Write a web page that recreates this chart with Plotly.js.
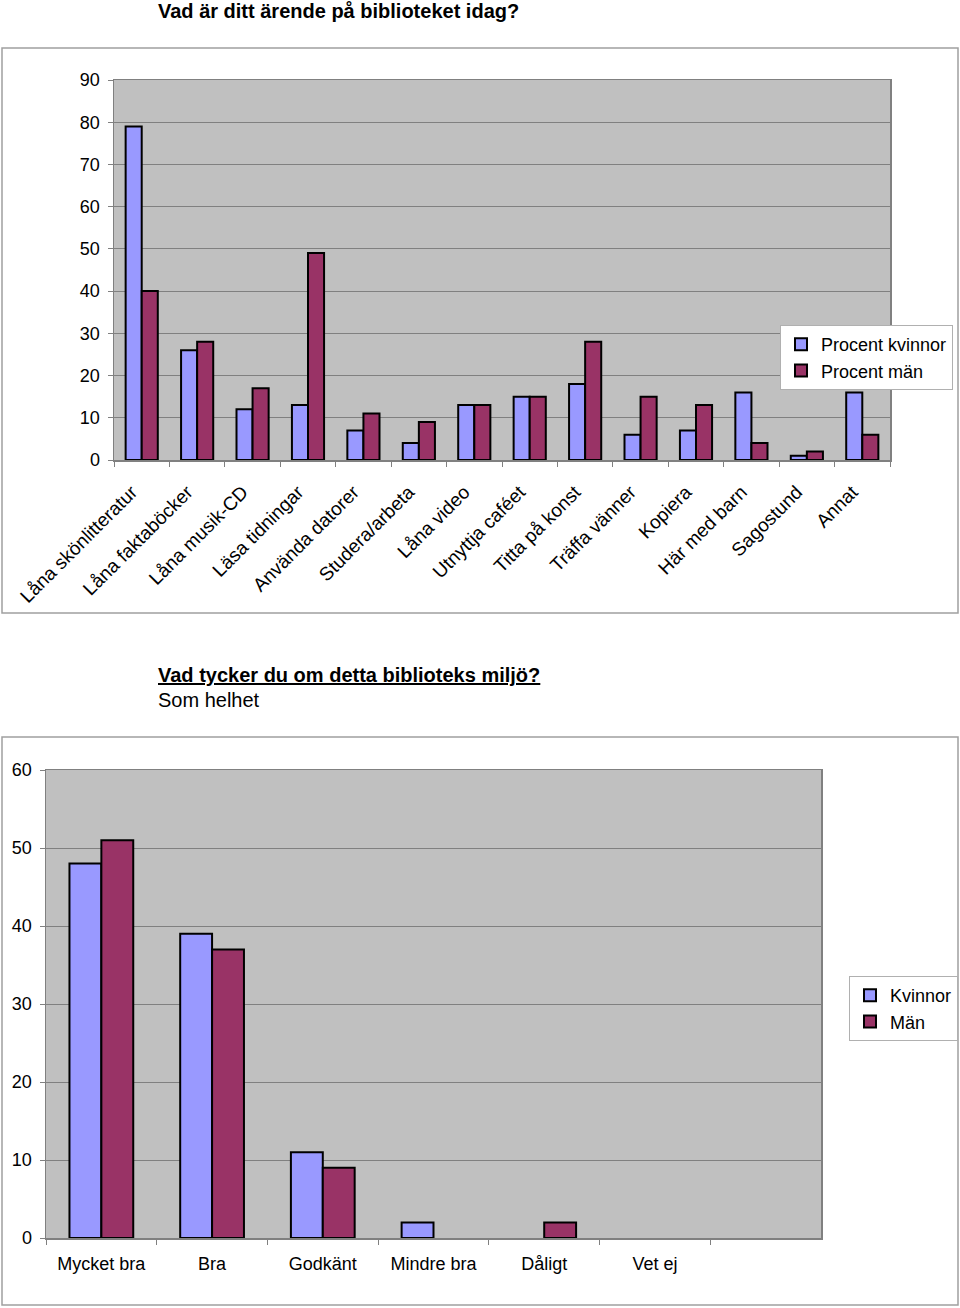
<!DOCTYPE html>
<html>
<head>
<meta charset="utf-8">
<script src="https://cdn.plot.ly/plotly-3.0.1.min.js"></script>
<style>
html,body{margin:0;padding:0;background:#fff;}
#chart{width:960px;height:1308px;}
</style>
</head>
<body>
<div id="chart"></div>
<script>
// ---- Data: chart 1 ----
const errandCategories = ["Låna skönlitteratur","Låna faktaböcker","Låna musik-CD","Läsa tidningar","Använda datorer","Studera/arbeta","Låna video","Utnyttja caféet","Titta på konst","Träffa vänner","Kopiera","Här med barn","Sagostund","Annat"];
const errandWomen = [79, 26, 12, 13, 7, 4, 13, 15, 18, 6, 7, 16, 1, 16];
const errandMen   = [40, 28, 17, 49, 11, 9, 13, 15, 28, 15, 13, 4, 2, 6];
const errandTicks = [0,10,20,30,40,50,60,70,80,90];

// ---- Data: chart 2 ----
const ratingCategories = ["Mycket bra","Bra","Godkänt","Mindre bra","Dåligt","Vet ej"];
const ratingWomen = [48, 39, 11, 2, 0, 0];
const ratingMen   = [51, 37, 9, 0, 2, 0];
const ratingTicks = [0,10,20,30,40,50,60];

const W = 960, H = 1308;
const px = x => x / W;
const py = y => 1 - y / H;

const FONT = "Liberation Sans, Arial, sans-serif";
const C_W = "#9999ff", C_M = "#993366";
const outline = vals => ({color:"#000000", width: vals.map(v => v > 0 ? 2 : 0)});

const w1 = 0.29, w2 = 0.288;

const traces = [
  {type:"bar", x: errandCategories, y: errandWomen, name:"Procent kvinnor", xaxis:"x", yaxis:"y",
   marker:{color:C_W, line:outline(errandWomen)}, width:w1, offset:-w1, legend:"legend", legendgroup:"a"},
  {type:"bar", x: errandCategories, y: errandMen, name:"Procent män", xaxis:"x", yaxis:"y",
   marker:{color:C_M, line:outline(errandMen)}, width:w1, offset:0, legend:"legend", legendgroup:"b"},
  {type:"bar", x: ratingCategories, y: ratingWomen, name:"Kvinnor", xaxis:"x2", yaxis:"y2",
   marker:{color:C_W, line:outline(ratingWomen)}, width:w2, offset:-w2, legend:"legend2", legendgroup:"c"},
  {type:"bar", x: ratingCategories, y: ratingMen, name:"Män", xaxis:"x2", yaxis:"y2",
   marker:{color:C_M, line:outline(ratingMen)}, width:w2, offset:0, legend:"legend2", legendgroup:"d"}
];

const axisCommon = {
  showline:true, linecolor:"#808080", linewidth:1.5, mirror:true,
  tickfont:{family:FONT, size:18, color:"#000"}, tickcolor:"#808080", ticklen:5, tickwidth:1
};

const legendCommon = {
  xanchor:"left", yanchor:"top",
  bgcolor:"#ffffff", bordercolor:"#b0b0b0", borderwidth:1,
  font:{family:FONT, size:18, color:"#000"}, tracegroupgap:0, traceorder:"grouped",
  itemclick:false, itemdoubleclick:false
};

const layout = {
  width: W, height: H,
  margin:{l:0,r:0,t:0,b:0},
  paper_bgcolor:"#ffffff",
  plot_bgcolor:"#c0c0c0",
  font:{family:FONT, size:18, color:"#000"},
  barmode:"group",
  showlegend:true,
  xaxis: Object.assign({}, axisCommon, {
    domain:[px(114), px(890)], anchor:"y", type:"category",
    ticks:"outside", tickson:"boundaries", tickangle:-45, showgrid:false,
    tickfont:{family:FONT, size:19, color:"#000"},
    ticklabelstandoff:12, ticklabelshift:-10,
    range:[-0.5, errandCategories.length - 0.5]
  }),
  yaxis: Object.assign({}, axisCommon, {
    domain:[py(460), py(80)], anchor:"x", range:[0,90], tickvals:errandTicks,
    ticks:"outside", showgrid:true, gridcolor:"#808080", gridwidth:1, zeroline:false,
    ticklabelstandoff:4
  }),
  xaxis2: Object.assign({}, axisCommon, {
    domain:[px(46), px(821)], anchor:"y2", type:"category",
    ticks:"outside", tickson:"boundaries", tickangle:0, showgrid:false,
    ticklabelstandoff:9,
    range:[-0.5, ratingCategories.length + 0.5]
  }),
  yaxis2: Object.assign({}, axisCommon, {
    domain:[py(1238), py(770)], anchor:"x2", range:[0,60], tickvals:ratingTicks,
    ticks:"outside", showgrid:true, gridcolor:"#808080", gridwidth:1, zeroline:false,
    ticklabelstandoff:4
  }),
  legend: Object.assign({}, legendCommon, {x:px(780), y:py(325)}),
  legend2: Object.assign({}, legendCommon, {x:px(849), y:py(976)}),
  shapes:[
    {type:"rect", xref:"paper", yref:"paper", x0:px(2), x1:px(958), y0:py(613), y1:py(48),
     line:{color:"#a0a0a0", width:1.5}, fillcolor:"rgba(0,0,0,0)", layer:"below"},
    {type:"rect", xref:"paper", yref:"paper", x0:px(2), x1:px(958), y0:py(1305), y1:py(737),
     line:{color:"#a0a0a0", width:1.5}, fillcolor:"rgba(0,0,0,0)", layer:"below"}
  ],
  annotations:[
    {xref:"paper", yref:"paper", x:px(156), y:py(11), xanchor:"left", yanchor:"middle", showarrow:false,
     text:"<b>Vad är ditt ärende på biblioteket idag?</b>", font:{family:FONT, size:20, color:"#000"}},
    {xref:"paper", yref:"paper", x:px(156), y:py(675), xanchor:"left", yanchor:"middle", showarrow:false,
     text:"<b><u>Vad tycker du om detta biblioteks miljö?</u></b>", font:{family:FONT, size:20, color:"#000"}},
    {xref:"paper", yref:"paper", x:px(156), y:py(700), xanchor:"left", yanchor:"middle", showarrow:false,
     text:"Som helhet", font:{family:FONT, size:20, color:"#000"}}
  ]
};

Plotly.newPlot("chart", traces, layout, {displayModeBar:false, staticPlot:true});
</script>
</body>
</html>
